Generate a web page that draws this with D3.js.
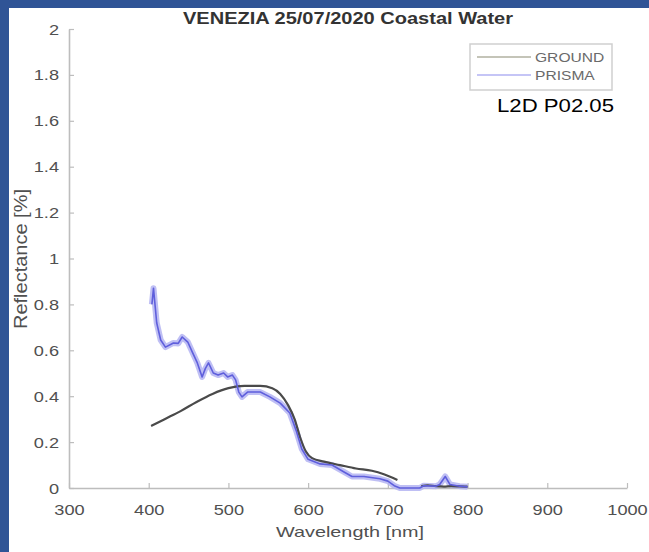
<!DOCTYPE html>
<html>
<head>
<meta charset="utf-8">
<script src="https://cdn.jsdelivr.net/npm/d3@7"></script>
<style>
  html, body { margin: 0; padding: 0; background: #2F5496; }
  svg { display: block; }
  text { font-family: "Liberation Sans", Arial, sans-serif; }
</style>
</head>
<body>
<svg id="chart" width="649" height="552"></svg>
<script>
// Ground measurement (nm, reflectance %) — main segment and the far-red segment after the gap
const groundWl = [403, 420, 440, 460, 480, 500, 520, 540, 555, 565, 575, 583, 590, 597, 605, 620, 640, 660, 680, 695, 712];
const groundR  = [0.27, 0.30, 0.335, 0.375, 0.41, 0.435, 0.445, 0.445, 0.435, 0.41, 0.36, 0.30, 0.22, 0.16, 0.13, 0.115, 0.10, 0.085, 0.075, 0.06, 0.035];
const groundWl2 = [742, 750, 760, 770, 780, 790, 800];
const groundR2  = [0.008, 0.012, 0.008, 0.006, 0.008, 0.007, 0.006];

// PRISMA L2D spectrum
const prismaWl = [404, 406, 410, 415, 421, 431, 437, 442, 449, 455, 461, 467, 471, 475, 481, 487, 494, 499, 505, 509, 513, 517, 524, 540, 552, 565, 577, 585, 592, 600, 615, 630, 645, 655, 670, 690, 700, 708, 715, 740, 745, 760, 765, 772, 778, 790, 800];
const prismaR  = [0.80, 0.87, 0.72, 0.645, 0.614, 0.632, 0.63, 0.658, 0.636, 0.59, 0.545, 0.484, 0.52, 0.545, 0.501, 0.492, 0.501, 0.484, 0.492, 0.471, 0.418, 0.397, 0.418, 0.418, 0.397, 0.37, 0.327, 0.25, 0.17, 0.125, 0.105, 0.10, 0.07, 0.05, 0.05, 0.04, 0.03, 0.01, 0.0, 0.0, 0.01, 0.008, 0.015, 0.05, 0.015, 0.008, 0.005];

const xTicks = [300, 400, 500, 600, 700, 800, 900, 1000];
const yTicks = [0, 0.2, 0.4, 0.6, 0.8, 1, 1.2, 1.4, 1.6, 1.8, 2];
const seriesNames = ["GROUND", "PRISMA"];

const svg = d3.select("#chart");

// white figure area inside the slide frame
svg.append("rect").attr("x", 9).attr("y", 8).attr("width", 640).attr("height", 544).attr("fill", "#ffffff");

const x = d3.scaleLinear().domain([300, 1000]).range([69, 627]);
const y = d3.scaleLinear().domain([0, 2]).range([488, 29]);

const axisColor = "#bdbdbd";
const labelColor = "#505050";
const sx = 1.3; // glyph widening of the figure text

// x axis
const gx = svg.append("g").attr("transform", `translate(0,${y(0)})`)
  .call(d3.axisBottom(x).tickValues(xTicks).tickFormat(d3.format("d")).tickSizeInner(-5).tickSizeOuter(0));
gx.select(".domain").attr("stroke", axisColor).attr("stroke-width", 1.6);
gx.selectAll(".tick line").attr("stroke", axisColor).attr("stroke-width", 1.2);
gx.selectAll(".tick text")
  .attr("y", null).attr("dy", null)
  .attr("transform", `translate(0,27) scale(${sx},1)`)
  .attr("fill", labelColor).attr("font-size", 14).attr("text-anchor", "middle");

// y axis
const gy = svg.append("g").attr("transform", `translate(${x(300)},0)`)
  .call(d3.axisLeft(y).tickValues(yTicks).tickFormat(d3.format("~g")).tickSizeInner(-5).tickSizeOuter(0));
gy.select(".domain").attr("stroke", axisColor).attr("stroke-width", 1.6);
gy.selectAll(".tick line").attr("stroke", axisColor).attr("stroke-width", 1.2);
gy.selectAll(".tick text")
  .attr("x", null).attr("dy", null)
  .attr("transform", `translate(-10,5) scale(${sx},1)`)
  .attr("fill", labelColor).attr("font-size", 14).attr("text-anchor", "end");

const line = d3.line().x(d => x(d[0])).y(d => y(d[1]));

// PRISMA: soft envelope under the main trace
const prismaPts = prismaWl.map((w, i) => [w, prismaR[i]]);
svg.append("path").datum(prismaPts).attr("d", line)
  .attr("fill", "none").attr("stroke", "#b4b4f2").attr("stroke-width", 6)
  .attr("stroke-linejoin", "round").attr("opacity", 0.85);

// ground
[[groundWl, groundR], [groundWl2, groundR2]].forEach(([wl, r]) => {
  svg.append("path").datum(wl.map((w, i) => [w, r[i]]))
    .attr("d", line.curve(d3.curveMonotoneX))
    .attr("fill", "none").attr("stroke", "#4a4a4a").attr("stroke-width", 2.2)
    .attr("stroke-linejoin", "round");
});
line.curve(d3.curveLinear);

svg.append("path").datum(prismaPts).attr("d", line)
  .attr("fill", "none").attr("stroke", "#5f5fdc").attr("stroke-width", 1.6)
  .attr("stroke-linejoin", "round");

// title
svg.append("text").attr("x", 348).attr("y", 24).attr("text-anchor", "middle")
  .attr("font-size", 16).attr("font-weight", "bold").attr("fill", "#333")
  .attr("textLength", 330).attr("lengthAdjust", "spacingAndGlyphs")
  .text("VENEZIA 25/07/2020 Coastal Water");

// axis titles
svg.append("text").attr("x", 350).attr("y", 537).attr("text-anchor", "middle")
  .attr("font-size", 15).attr("fill", labelColor)
  .attr("textLength", 148).attr("lengthAdjust", "spacingAndGlyphs")
  .text("Wavelength [nm]");

svg.append("text").attr("transform", "translate(27,259) rotate(-90)").attr("text-anchor", "middle")
  .attr("font-size", 18).attr("fill", labelColor)
  .attr("textLength", 140).attr("lengthAdjust", "spacingAndGlyphs")
  .text("Reflectance [%]");

// legend
const lg = svg.append("g");
lg.append("rect").attr("x", 470).attr("y", 44).attr("width", 142).attr("height", 46)
  .attr("fill", "#fff").attr("stroke", "#cfcfcf").attr("stroke-width", 1.5);
const legendStroke = [{ c: "#c4c4b8", w: 2.2 }, { c: "#8c8cee", w: 1.2 }];
seriesNames.forEach((name, i) => {
  const ly = 57 + i * 18;
  lg.append("line").attr("x1", 477).attr("x2", 531).attr("y1", ly).attr("y2", ly)
    .attr("stroke", legendStroke[i].c).attr("stroke-width", legendStroke[i].w);
  lg.append("text").attr("transform", `translate(535,${ly + 4.5}) scale(${sx},1)`)
    .attr("font-size", 12).attr("fill", "#6a6a6a").text(name);
});

// product label
svg.append("text").attr("x", 497).attr("y", 112)
  .attr("font-family", "'Open Sans', 'Liberation Sans', sans-serif")
  .attr("font-size", 19).attr("fill", "#000")
  .attr("textLength", 117).attr("lengthAdjust", "spacingAndGlyphs")
  .text("L2D P02.05");
</script>
</body>
</html>
